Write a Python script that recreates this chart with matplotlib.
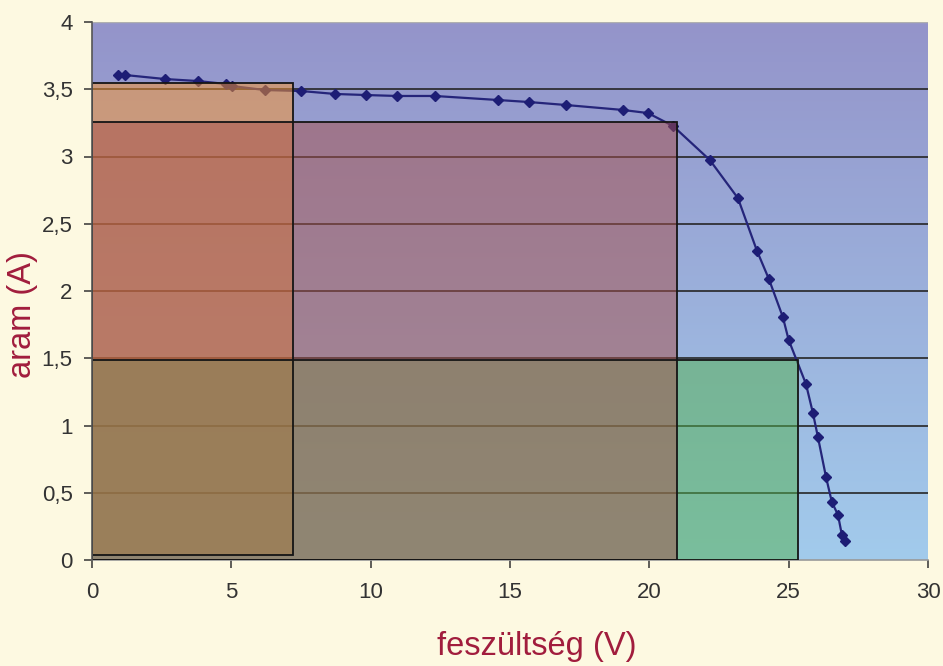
import numpy as np
import matplotlib
matplotlib.use("Agg")
import matplotlib.pyplot as plt
from matplotlib.patches import Rectangle

# --- data ---
voltage = [0.93, 1.18, 2.62, 3.80, 4.81, 5.02, 6.21, 7.50, 8.72, 9.83, 10.95,
           12.30, 14.57, 15.68, 17.00, 19.05, 19.95, 20.85, 22.17, 23.18, 23.86,
           24.29, 24.79, 25.00, 25.62, 25.87, 26.05, 26.34, 26.55, 26.77, 26.91,
           27.02]
current = [3.606, 3.606, 3.576, 3.561, 3.539, 3.524, 3.494, 3.487, 3.465, 3.457,
           3.450, 3.450, 3.420, 3.405, 3.383, 3.346, 3.323, 3.227, 2.974, 2.690,
           2.300, 2.089, 1.807, 1.636, 1.309, 1.093, 0.914, 0.617, 0.431, 0.335,
           0.186, 0.141]

# operating-point rectangles: (name, V, I, I_bottom)
rect_names = ["orange", "green", "red"]
rect_v = [7.22, 25.33, 20.98]
rect_i = [3.55, 1.49, 3.26]
rect_i0 = [0.035, 0.0, 0.0]

xticks = [0, 5, 10, 15, 20, 25, 30]
yticks = [0, 0.5, 1, 1.5, 2, 2.5, 3, 3.5, 4]
ytick_labels = ["0", "0,5", "1", "1,5", "2", "2,5", "3", "3,5", "4"]
xlabel = "feszültség (V)"
ylabel = "aram (A)"

# --- style ---
plt.rcParams["font.family"] = ["Liberation Sans", "DejaVu Sans"]
fig_bg = "#fdf9e1"
label_red = "#a11d3d"
rect_colors = {"orange": (252/255, 151/255, 43/255, 0.5),
               "green": (82/255, 178/255, 78/255, 0.5),
               "red": (166/255, 79/255, 74/255, 0.5)}

fig = plt.figure(figsize=(9.43, 6.66), dpi=100, facecolor=fig_bg)
ax = fig.add_axes([92/943, 106/666, 836/943, 538/666])

# gradient plot-area background
top = np.array([148, 148, 202]) / 255
bot = np.array([162, 203, 236]) / 255
t = np.linspace(0, 1, 256)[:, None]
grad = (top[None, :] * (1 - t) + bot[None, :] * t)[:, None, :]
ax.imshow(grad, extent=[0, 30, 0, 4], aspect="auto", zorder=0, origin="upper")

# horizontal gridlines
for y in yticks[1:-1]:
    ax.axhline(y, color="#262626", lw=1.2, zorder=1)
ax.axhline(4, color="#b0b0b0", lw=1.0, zorder=1)

# curve
ax.plot(voltage, current, color="#25257a", lw=1.6, marker="D", markersize=5,
        markerfacecolor="#1d1d75", markeredgecolor="#1d1d75", zorder=2)

# rectangles
for i, name in enumerate(rect_names):
    r = Rectangle((0, rect_i0[i]), rect_v[i], rect_i[i] - rect_i0[i],
                  facecolor=rect_colors[name], edgecolor="none", zorder=3 + i)
    ax.add_patch(r)
    r2 = Rectangle((0, rect_i0[i]), rect_v[i], rect_i[i] - rect_i0[i],
                   facecolor="none", edgecolor="#151515", lw=1.3, zorder=6)
    ax.add_patch(r2)

ax.set_xlim(0, 30)
ax.set_ylim(0, 4)
ax.set_xticks(xticks)
ax.set_yticks(yticks)
ax.set_yticklabels(ytick_labels)
ax.tick_params(axis="both", direction="out", length=6, width=1.1, colors="#333333",
               labelsize=16, labelcolor="#333333")
ax.tick_params(axis="y", pad=8)
ax.tick_params(axis="x", pad=10)

for s in ["top", "right"]:
    ax.spines[s].set_visible(False)
ax.spines["left"].set_color("#555555")
ax.spines["bottom"].set_color("#999999")
ax.spines["left"].set_linewidth(1.2)
ax.spines["bottom"].set_linewidth(1.2)
ax.spines["left"].set_zorder(7)

fig.text(537/943, 1 - 646/666, xlabel, color=label_red, fontsize=23.5,
         ha="center", va="center")
fig.text(22/943, 1 - 315/666, ylabel, color=label_red, fontsize=23.5,
         ha="center", va="center", rotation=90)

fig.savefig("out.png", dpi=100, facecolor=fig_bg)
